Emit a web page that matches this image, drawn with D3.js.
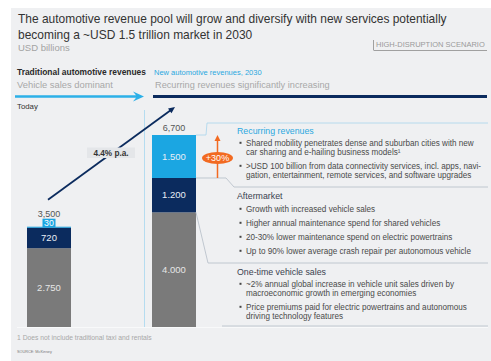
<!DOCTYPE html>
<html>
<head>
<meta charset="utf-8">
<script src="https://cdn.jsdelivr.net/npm/d3@7/dist/d3.min.js"></script>
<style>
  html, body { margin: 0; padding: 0; background: #ffffff; }
  svg { display: block; font-family: "Liberation Sans", Arial, Helvetica, sans-serif; }
</style>
</head>
<body>
<svg id="chart" width="491" height="361"></svg>
<script>
// Revenue pool, USD billions
const periods = ["Today", "2030"];
const segments = ["One-time vehicle sales", "Aftermarket", "Recurring revenues"];
const todayValues = [2750, 720, 30];
const futureValues = [4000, 1200, 1500];
const totalLabels = ["3,500", "6,700"];
const growthLabel = "4.4% p.a.";
const upliftLabel = "+30%";

const descriptions = [
  { title: "Recurring revenues", bullets: [
      ["Shared mobility penetrates dense and suburban cities with new", "car sharing and e-hailing business models\u00B9"],
      [">USD 100 billion from data connectivity services, incl. apps, navi-", "gation, entertainment, remote services, and software upgrades"]
  ]},
  { title: "Aftermarket", bullets: [
      ["Growth with increased vehicle sales"],
      ["Higher annual maintenance spend for shared vehicles"],
      ["20-30% lower maintenance spend on electric powertrains"],
      ["Up to 90% lower average crash repair per autonomous vehicle"]
  ]},
  { title: "One-time vehicle sales", bullets: [
      ["~2% annual global increase in vehicle unit sales driven by", "macroeconomic growth in emerging economies"],
      ["Price premiums paid for electric powertrains and autonomous", "driving technology features"]
  ]}
];

const colors = {
  panel: "#eff0f2",
  sales: "#7a7a7a",
  after: "#0b2b5e",
  recur: "#1ba6e2",
  text: "#333333",
  blue: "#2ba8e0",
  navy: "#0b2b5e",
  orange: "#f26a21",
  rule: "#b4bcc6"
};
const segColors = [colors.sales, colors.after, colors.recur];

const svg = d3.select("#chart");

// scale a text's font size so that it spans the given width
function fitWidth(sel, width) {
  const len = sel.node().getComputedTextLength();
  const k = width / len;
  sel.attr("font-size", +sel.attr("font-size") * k);
  return k;
}
function label(x, y, txt, size, fill, width) {
  const t = svg.append("text").attr("x", x).attr("y", y).attr("fill", fill).attr("font-size", size).text(txt);
  if (width) fitWidth(t, width);
  return t;
}

// panel
svg.append("rect").attr("x", 11).attr("y", 8).attr("width", 480).attr("height", 353).attr("fill", colors.panel);

// header texts
const t1 = label(18, 23, "The automotive revenue pool will grow and diversify with new services potentially", 12, colors.text);
const kTitle = fitWidth(t1, 429);
label(18, 39, "becoming a ~USD 1.5 trillion market in 2030", 12 * kTitle, colors.text);
label(18, 51, "USD billions", 9.5, "#a3a3a3");

// scenario tag
label(376, 47, "HIGH-DISRUPTION SCENARIO", 6, "#9a9a9a", 109);
svg.append("line").attr("x1", 373.5).attr("x2", 373.5).attr("y1", 40).attr("y2", 50).attr("stroke", "#a0a0a0").attr("stroke-width", 1);
svg.append("line").attr("x1", 373.5).attr("x2", 487).attr("y1", 50.5).attr("y2", 50.5).attr("stroke", "#a0a0a0").attr("stroke-width", 1);

// timeline headings
label(17, 75, "Traditional automotive revenues", 8, "#2a2a2a").attr("font-weight", "bold").call(s => fitWidth(s, 129));
label(17, 88, "Vehicle sales dominant", 8, "#a8a8a8", 96);
label(154, 75, "New automotive revenues, 2030", 7.5, colors.blue);
label(155, 88, "Recurring revenues significantly increasing", 8, "#a8a8a8", 175);

// light-blue arrow (today) and navy rule (2030)
svg.append("path")
  .attr("d", "M15,95.2 L136,95.2 L133,91.5 L144,96.5 L133,101.5 L136,97.8 L15,97.8 Z")
  .attr("fill", "#2cb0e8");
svg.append("rect").attr("x", 153).attr("y", 95).attr("width", 334).attr("height", 3).attr("fill", colors.navy);

label(17, 109, "Today", 7.8, colors.text);

// divider between periods
svg.append("line").attr("x1", 144.5).attr("x2", 144.5).attr("y1", 110).attr("y2", 327).attr("stroke", "#b5dcf0").attr("stroke-width", 1);

// scales
const x = d3.scaleBand().domain(periods).range([27, 196]).paddingInner(0.648).paddingOuter(0);
const y = d3.scaleLinear().domain([0, 6700]).range([327, 135]);

const stackData = [
  Object.fromEntries([["period", periods[0]], ...segments.map((s, i) => [s, todayValues[i]])]),
  Object.fromEntries([["period", periods[1]], ...segments.map((s, i) => [s, futureValues[i]])])
];
const series = d3.stack().keys(segments)(stackData);

const dotFmt = d3.formatLocale({ decimal: ",", thousands: ".", grouping: [3], currency: ["", ""] }).format(",d");

// baseline
svg.append("line").attr("x1", 17).attr("x2", 488).attr("y1", 327.5).attr("y2", 327.5).attr("stroke", "#f8f9fa").attr("stroke-width", 1);

const g = svg.append("g");
series.forEach((s, si) => {
  g.selectAll(null).data(s).enter().append("rect")
    .attr("x", d => x(d.data.period))
    .attr("width", x.bandwidth())
    .attr("y", d => y(d[1]))
    .attr("height", d => Math.max(1, y(d[0]) - y(d[1])))
    .attr("fill", segColors[si]);
});

// segment value labels
series.forEach((s, si) => {
  s.forEach(d => {
    const v = d[1] - d[0];
    const cx = x(d.data.period) + x.bandwidth() / 2;
    const h = y(d[0]) - y(d[1]);
    if (h < 6) {
      // thin segment: label in a tag sitting on the bar top
      svg.append("rect").attr("x", cx - 6.5).attr("y", y(d[1]) - 8).attr("width", 13).attr("height", 8.5).attr("fill", colors.recur);
      svg.append("text").attr("x", cx).attr("y", y(d[1]) - 0.8).attr("text-anchor", "middle")
        .attr("fill", "#ffffff").attr("font-size", 8.8).text(dotFmt(v));
    } else {
      svg.append("text").attr("x", cx).attr("y", (y(d[0]) + y(d[1])) / 2 + 3.3).attr("text-anchor", "middle")
        .attr("fill", si === 0 ? "#e6e6e6" : "#e8eef6").attr("font-size", 9.5).text(dotFmt(v));
    }
  });
});

// totals
const totals = [d3.sum(todayValues), d3.sum(futureValues)];
totals.forEach((t, i) => {
  svg.append("text").attr("x", x(periods[i]) + x.bandwidth() / 2).attr("y", y(t) - (i === 0 ? 9.5 : 4))
    .attr("text-anchor", "middle").attr("fill", "#555555").attr("font-size", 9).text(totalLabels[i]);
});

// growth arrow
const ax1 = 48, ay1 = y(totals[0]) - 27, ax2 = 175, ay2 = 107;
const ang = Math.atan2(ay2 - ay1, ax2 - ax1);
svg.append("line").attr("x1", ax1).attr("y1", ay1)
  .attr("x2", ax2 - 5 * Math.cos(ang)).attr("y2", ay2 - 5 * Math.sin(ang))
  .attr("stroke", colors.navy).attr("stroke-width", 1.8);
const hl = 6.5, hw = 3;
const bx = ax2 - hl * Math.cos(ang), by = ay2 - hl * Math.sin(ang);
svg.append("path")
  .attr("d", `M${ax2},${ay2} L${bx + hw * Math.sin(ang)},${by - hw * Math.cos(ang)} L${bx - hw * Math.sin(ang)},${by + hw * Math.cos(ang)} Z`)
  .attr("fill", colors.navy);
svg.append("rect").attr("x", 87).attr("y", 147.5).attr("width", 48).attr("height", 10.5).attr("fill", "#e4e6e9");
svg.append("text").attr("x", 111).attr("y", 155.8).attr("text-anchor", "middle").attr("fill", "#333")
  .attr("font-size", 8.2).attr("font-weight", "bold").text(growthLabel);

// bracket connectors
const barRight = x("2030") + x.bandwidth();
const recurTop = y(totals[1]);
const recurBottom = y(futureValues[0] + futureValues[1]);
const afterBottom = y(futureValues[0]);
const ruleY = [123, 187, 263, 326];
const conn = svg.append("g").attr("fill", "none").attr("stroke-width", 0.8);
conn.append("path").attr("d", `M${barRight},${recurTop} L${barRight + 10},${recurTop} L${barRight + 11},${ruleY[0]} L488,${ruleY[0]}`).attr("stroke", "#a8d4ec");
conn.append("path").attr("d", `M${barRight},${recurBottom} L${barRight + 30},${recurBottom} L${barRight + 38},${ruleY[1]} L488,${ruleY[1]}`).attr("stroke", colors.rule);
conn.append("path").attr("d", `M${barRight},${afterBottom} L${barRight + 12},${ruleY[2]} L488,${ruleY[2]}`).attr("stroke", colors.rule);
conn.append("path").attr("d", `M222,${ruleY[3]} L488,${ruleY[3]}`).attr("stroke", colors.rule);

// +30% uplift marker
const ux = 217.5;
svg.append("line").attr("x1", ux).attr("x2", ux).attr("y1", recurTop + 5).attr("y2", recurBottom)
  .attr("stroke", colors.orange).attr("stroke-width", 1.5);
svg.append("path").attr("d", `M${ux},${recurTop} L${ux - 3},${recurTop + 6} L${ux + 3},${recurTop + 6} Z`).attr("fill", colors.orange);
svg.append("ellipse").attr("cx", ux).attr("cy", 158).attr("rx", 15.5).attr("ry", 6).attr("fill", colors.orange);
svg.append("text").attr("x", ux).attr("y", 161.3).attr("text-anchor", "middle").attr("fill", "#ffffff")
  .attr("font-size", 9).text(upliftLabel);

// descriptions
const blockTop = [134, 199, 275];
const bulletRows = [[146, 155, 169, 178], [212, 226, 240, 254], [287, 296, 310, 319]];
// size the bullet text from its first line
const probe = svg.append("text").attr("font-size", 7).text(descriptions[0].bullets[0][0]);
const bulletSize = 7 * 228 / probe.node().getComputedTextLength();
probe.remove();
descriptions.forEach((blk, bi) => {
  label(237, blockTop[bi], blk.title, 8.8, bi === 0 ? colors.blue : "#3a4250");
  let r = 0;
  blk.bullets.forEach(lines => {
    svg.append("rect").attr("x", 239.5).attr("y", bulletRows[bi][r] - 4.2).attr("width", 2).attr("height", 2).attr("fill", "#444");
    lines.forEach(line => {
      label(246, bulletRows[bi][r], line, bulletSize, "#4a4a4a");
      r++;
    });
  });
});

// footnotes
label(17, 340, "1 Does not include traditional taxi and rentals", 6, "#a8a8a8", 135);
label(17, 353, "SOURCE: McKinsey", 4, "#777", 35);
</script>
</body>
</html>
